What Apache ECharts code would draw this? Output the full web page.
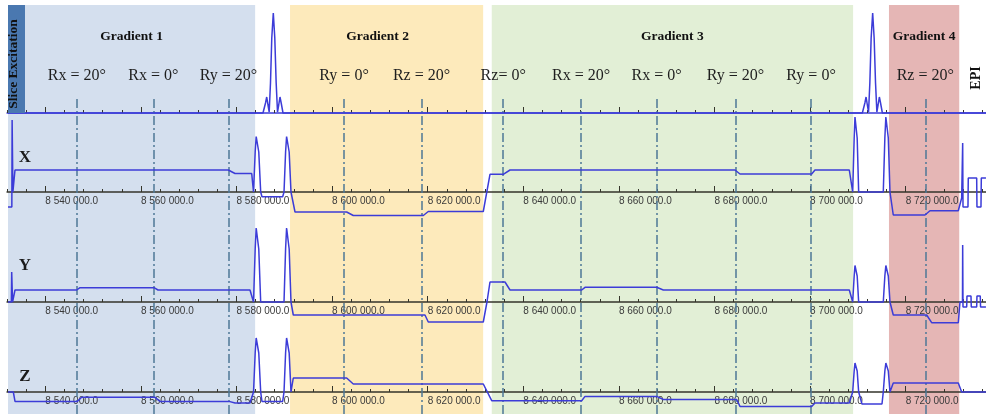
<!DOCTYPE html>
<html>
<head>
<meta charset="utf-8">
<script src="https://cdn.jsdelivr.net/npm/echarts@6/dist/echarts.min.js"></script>
<style>
html,body{margin:0;padding:0;background:#fff;}
#chart{width:986px;height:414px;}
</style>
</head>
<body>
<div id="chart"></div>
<script>
// ---------- DATA (time in µs, amplitudes in arbitrary units) ----------
const timeMin = 8532000;
const timeMax = 8736800;
const minorStep = 4000;
const majorTickValues = [8540000, 8560000, 8580000, 8600000, 8620000, 8640000, 8660000, 8680000, 8700000, 8720000];

const gradientNames  = ['Gradient 1', 'Gradient 2', 'Gradient 3', 'Gradient 4'];
const gradientStarts = [8532200, 8591200, 8633400, 8716500];
const gradientEnds   = [8583900, 8631600, 8709000, 8731200];

const markerLabels = ['Rx = 20°', 'Rx = 0°', 'Ry = 20°', 'Ry = 0°', 'Rz = 20°', 'Rz= 0°',
                      'Rx = 20°', 'Rx = 0°', 'Ry = 20°', 'Ry = 0°', 'Rz = 20°'];
const markerTimes  = [8546600, 8562600, 8578300, 8602500, 8618700, 8635800,
                      8652100, 8667900, 8684400, 8700200, 8724100];

const rowNames = ['X', 'Y', 'Z'];

const rfPoints = [
  [8532200, 0],
  [8585540, 0], [8586070, 10], [8586320, 16], [8586590, 8], [8586840, 1], [8587110, 30], [8587380, 75],
  [8587700, 100], [8588010, 75], [8588300, 30], [8588580, 1], [8588830, 8], [8589100, 16], [8589350, 10], [8589730, 0],
  [8710930, 0], [8711460, 10], [8711710, 16], [8711980, 8], [8712230, 1], [8712500, 30], [8712770, 75],
  [8713090, 100], [8713400, 75], [8713690, 30], [8713970, 1], [8714220, 8], [8714490, 16], [8714740, 10], [8715120, 0],
  [8736800, 0]
];

const gxPoints = [
  [8532200, -15], [8533000, -15], [8533060, 72], [8533220, 0], [8533370, 0], [8533660, 22],
  [8578280, 22], [8579690, 18.5], [8583180, 18.5], [8583560, 0],
  [8583910, 40], [8584120, 55.5], [8584460, 55.5], [8584660, 40], [8585060, 0],
  [8585330, -4.7], [8589660, -4.7], [8589940, 0],
  [8590270, 40], [8590480, 55.5], [8590820, 55.5], [8591020, 40], [8591400, 0],
  [8592240, -20], [8603050, -20], [8604430, -23.5], [8619080, -23.5], [8620120, -19.5],
  [8631630, -19.5], [8633030, 17.7], [8635810, 17.7], [8637220, 22],
  [8684290, 22], [8685330, 18], [8700330, 18], [8701020, 22], [8708200, 22], [8708910, 0],
  [8709220, 54], [8709390, 75], [8709680, 75], [8709850, 54], [8710160, 0],
  [8715310, 0], [8715640, 54], [8715850, 75], [8716150, 75], [8716360, 54], [8716710, 0],
  [8717400, -23], [8724030, -23], [8725080, -18.7], [8731000, -18.7], [8731710, -6], [8731880, -6],
  [8731920, 49], [8731990, -15], [8733030, -15], [8733090, 14], [8734850, 14], [8734910, -15],
  [8735750, -15], [8735820, 14], [8736790, 14]
];

const gyPoints = [
  [8532200, 0], [8532900, 0], [8532970, 30], [8533150, 0], [8533400, 0], [8533660, 12],
  [8546570, 12], [8547260, 14.3], [8562740, 14.3], [8563580, 12], [8582820, 12], [8583560, 0],
  [8583910, 53], [8584120, 74], [8584460, 74], [8584660, 53], [8585060, 0],
  [8589940, 0], [8590270, 53], [8590480, 74], [8590820, 74], [8591020, 53], [8591400, 0],
  [8591880, -13], [8619430, -13], [8620120, -20], [8631630, -20], [8632400, 0],
  [8633030, 20], [8636170, 20], [8637220, 12], [8652220, 12], [8652910, 14.7],
  [8667910, 14.7], [8669290, 12], [8708200, 12], [8708910, 0],
  [8709220, 26], [8709390, 36.5], [8709680, 36.5], [8709850, 26], [8710160, 0],
  [8715310, 0], [8715640, 26], [8715850, 36.5], [8716150, 36.5], [8716360, 26], [8716710, 0],
  [8717400, -13], [8724390, -13], [8725430, -20.7], [8731000, -20.7], [8731360, 0], [8731880, 0],
  [8731920, 57], [8731990, -5], [8732760, -5], [8732820, 6], [8733660, 6], [8733720, -5],
  [8734850, -5], [8734910, 6], [8735600, 6], [8735660, -5], [8736790, -5]
];

const gzPoints = [
  [8532200, 0], [8533310, 0], [8533660, -9.4], [8546690, -9.4], [8547610, -5.3],
  [8562950, -5.3], [8564000, -9.4], [8578430, -9.4], [8579690, -11], [8582820, -11], [8583560, 0],
  [8583910, 39], [8584120, 54], [8584460, 54], [8584660, 39], [8585060, 0],
  [8585330, -9.4], [8589660, -9.4], [8589940, 0],
  [8590270, 39], [8590480, 54], [8590820, 54], [8591020, 39], [8591400, 0],
  [8591880, 14], [8603050, 14], [8604430, 8], [8631630, 8], [8633390, -8.7],
  [8652220, -8.7], [8652910, -4.4], [8667910, -4.4], [8669290, -7.5], [8684640, -7.5],
  [8685330, -14.4], [8700330, -14.4], [8701020, -11], [8708200, -11], [8708910, 0],
  [8709220, 21], [8709390, 29], [8709680, 29], [8709850, 21], [8710160, 0],
  [8710850, -12], [8715040, -12], [8715310, 0],
  [8715640, 21], [8715850, 29], [8716150, 29], [8716360, 21], [8716710, 0],
  [8717400, 9], [8731000, 9], [8731710, 0], [8736790, 0]
];

// ---------- STYLE / LAYOUT ----------
const bandColors = ['#d4dfee', '#fdeabb', '#e2efd6', '#e5b6b5'];
const waveColor = '#3c3cd8';
const axisColor = '#35352b';
const markerColor = '#4e7897';
const serif = "'Liberation Serif', 'DejaVu Serif', serif";
const labelFont = "'Liberation Sans Narrow', 'Liberation Sans', Arial, sans-serif";

const gridLeft = 7.06;

function tickLabel(v) {
  return String(v).replace(/\B(?=(\d{3})+(?!\d))/g, ' ') + '.0';
}

// main axes: axis line at grid bottom (= zero level), major ticks + labels
function makeXAxis(gridIndex, visible, showLabels, lineColor) {
  return {
    type: 'value', gridIndex: gridIndex, min: timeMin, max: timeMax, position: 'bottom',
    show: visible, z: 3,
    axisLine: { show: true, onZero: false, lineStyle: { color: lineColor, width: 1.5 } },
    axisTick: { show: true, inside: true, length: 6, customValues: majorTickValues,
                lineStyle: { color: axisColor, width: 1 } },
    minorTick: { show: false },
    splitLine: { show: false },
    axisLabel: {
      show: showLabels, customValues: majorTickValues, align: 'left', margin: 4,
      fontFamily: labelFont, fontSize: 10, color: '#3a3a3a', formatter: tickLabel
    }
  };
}
// companion axes: minor ticks only
function makeMinorAxis(gridIndex) {
  return {
    type: 'value', gridIndex: gridIndex, min: timeMin, max: timeMax, interval: minorStep, z: 3,
    position: 'bottom',
    axisLine: { show: false, onZero: false },
    axisTick: { show: true, inside: true, length: 3, lineStyle: { color: axisColor, width: 1 } },
    splitLine: { show: false },
    axisLabel: { show: false }
  };
}
function makeYAxis(gridIndex, mx) {
  return { type: 'value', gridIndex: gridIndex, min: 0, max: mx, show: false, splitLine: { show: false } };
}

// each row: grid from top to its zero line (1 amplitude unit = 1 px); negative lobes drawn below unclipped
const rowGeom = [
  { top: 5, height: 108 },    // RF   zero at y=113
  { top: 113, height: 79 },   // X    zero at y=192
  { top: 220, height: 82 },   // Y    zero at y=302
  { top: 330, height: 62 }    // Z    zero at y=392
];

const grids = [
  { left: gridLeft, right: 0, top: 5, bottom: 0 },      // 0 bands
  { left: gridLeft, right: 0, top: 96, bottom: 0 }      // 1 markers
];
rowGeom.forEach(g => grids.push({ left: gridLeft, right: 0, top: g.top, height: g.height }));  // 2..5
rowGeom.forEach(g => grids.push({ left: gridLeft, right: 0, top: g.top, height: g.height }));  // 6..9

const xAxes = [
  makeXAxis(0, false, false, axisColor),
  makeXAxis(1, false, false, axisColor),
  makeXAxis(2, true, false, waveColor),
  makeXAxis(3, true, true, axisColor),
  makeXAxis(4, true, true, axisColor),
  makeXAxis(5, true, true, axisColor),
  makeMinorAxis(6), makeMinorAxis(7), makeMinorAxis(8), makeMinorAxis(9)
];
const yAxes = [makeYAxis(0, 1), makeYAxis(1, 1)];
rowGeom.forEach((g, i) => yAxes.push(makeYAxis(2 + i, g.height)));
rowGeom.forEach((g, i) => yAxes.push(makeYAxis(6 + i, g.height)));

function wave(idx, pts) {
  return {
    type: 'line', xAxisIndex: idx, yAxisIndex: idx, data: pts, showSymbol: false, symbol: 'none',
    clip: false, lineStyle: { color: waveColor, width: 1.5 }, z: 5, silent: true, animation: false
  };
}

const bandData = gradientNames.map((n, i) => [
  { name: n, xAxis: gradientStarts[i], itemStyle: { color: bandColors[i] },
    label: i === 1 ? { offset: [-9, 0] } : {} },
  { xAxis: gradientEnds[i] }
]);

const markerData = markerTimes.map((t, i) => ({ xAxis: t, label: { formatter: markerLabels[i] } }));

const option = {
  animation: false,
  backgroundColor: '#ffffff',
  grid: grids,
  xAxis: xAxes,
  yAxis: yAxes,
  series: [
    {
      type: 'line', xAxisIndex: 0, yAxisIndex: 0, data: [], z: 0, silent: true,
      markArea: {
        silent: true,
        label: { show: true, position: 'insideTop', distance: 25, fontFamily: serif, fontWeight: 'bold',
                 fontSize: 13.5, color: '#111' },
        data: bandData
      }
    },
    {
      type: 'line', xAxisIndex: 1, yAxisIndex: 1, data: [], z: 1, silent: true,
      markLine: {
        silent: true, symbol: ['none', 'none'], animation: false,
        lineStyle: { color: markerColor, width: 1.5, type: [9, 3, 2, 3] },
        label: { show: true, position: 'end', distance: 12, fontFamily: serif, fontSize: 16, color: '#1e1e1e' },
        data: markerData
      }
    },
    wave(2, rfPoints),
    wave(3, gxPoints),
    wave(4, gyPoints),
    wave(5, gzPoints)
  ],
  graphic: [
    { type: 'rect', shape: { x: 8, y: 5, width: 17, height: 108 }, style: { fill: '#4a78b0' }, z: 20 },
    { type: 'text', x: 14, y: 64, rotation: Math.PI / 2, z: 21,
      style: { text: 'Slice Excitation', font: "bold 13.5px " + serif, fill: '#111', align: 'center', verticalAlign: 'middle' } },
    { type: 'text', x: 976, y: 78, rotation: Math.PI / 2, z: 21,
      style: { text: 'EPI', font: "bold 14px " + serif, fill: '#111', align: 'center', verticalAlign: 'middle' } },
    { type: 'text', x: 25, y: 158, z: 21,
      style: { text: rowNames[0], font: "bold 17px " + serif, fill: '#1a1a1a', align: 'center', verticalAlign: 'middle' } },
    { type: 'text', x: 25, y: 266, z: 21,
      style: { text: rowNames[1], font: "bold 17px " + serif, fill: '#1a1a1a', align: 'center', verticalAlign: 'middle' } },
    { type: 'text', x: 25, y: 377, z: 21,
      style: { text: rowNames[2], font: "bold 17px " + serif, fill: '#1a1a1a', align: 'center', verticalAlign: 'middle' } }
  ]
};

const chart = echarts.init(document.getElementById('chart'), null, { renderer: 'canvas' });
chart.setOption(option);
</script>
</body>
</html>
